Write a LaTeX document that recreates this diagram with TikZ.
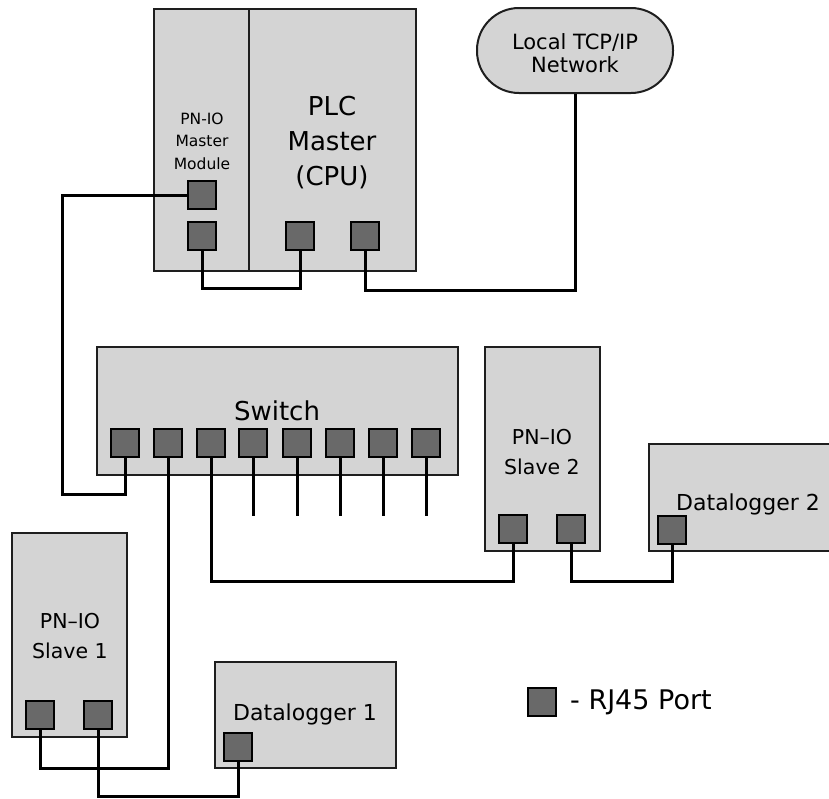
\documentclass[tikz,border=0pt]{standalone}
\usepackage{fontspec}
\setmainfont{DejaVu Sans}
\definecolor{boxgray}{RGB}{212,212,212}
\definecolor{portgray}{RGB}{105,105,105}
\definecolor{edgegray}{RGB}{30,30,30}
\begin{document}
\begin{tikzpicture}[x=1pt,y=-1pt,
  box/.style={draw=edgegray,fill=boxgray,line width=2pt,inner sep=0pt,rectangle},
  port/.style={draw=black,fill=portgray,line width=2pt,minimum size=28pt,inner sep=0pt,rectangle},
  wire/.style={draw=black,line width=3pt},
  lbl/.style={align=center,inner sep=0pt,text=black}]
\useasboundingbox (0,0) rectangle (829,798);
\clip (0,0) rectangle (829,798);
% boxes
\node[box,minimum width=95pt,minimum height=262pt] (module) at (201.5,140) {};
\node[box,minimum width=167pt,minimum height=262pt] (cpu) at (332.5,140) {};
\node[box,minimum width=196pt,minimum height=85pt,rounded corners=42pt] (net) at (575,50.5) {};
\node[box,minimum width=361pt,minimum height=128pt] (switch) at (277.5,411) {};
\node[box,minimum width=115pt,minimum height=204pt] (slave1) at (69.5,635) {};
\node[box,minimum width=181pt,minimum height=106pt] (dl1) at (305.5,715) {};
\node[box,minimum width=115pt,minimum height=204pt] (slave2) at (542.5,449) {};
\node[box,minimum width=200pt,minimum height=107pt] (dl2) at (749,497.5) {};
% labels
\node[lbl,font=\fontsize{15.5}{22.5}\selectfont] (tmod) at (202,141) {PN-IO\\Master\\Module};
\node[lbl,font=\fontsize{26}{35}\selectfont] (tcpu) at (332,143) {PLC\\Master\\(CPU)};
\node[lbl,font=\fontsize{21}{23}\selectfont] (tnet) at (575,53) {Local TCP/IP\\Network};
\node[lbl,font=\fontsize{26}{30}\selectfont] (tsw) at (277,411) {Switch};
\node[lbl,font=\fontsize{20.5}{30}\selectfont] (ts1) at (70,636) {PN–IO\\Slave 1};
\node[lbl,font=\fontsize{20.5}{30}\selectfont] (ts2) at (542,452) {PN–IO\\Slave 2};
\node[lbl,font=\fontsize{22}{26}\selectfont] (tdl1) at (305,714) {Datalogger 1};
\node[lbl,font=\fontsize{22}{26}\selectfont] (tdl2) at (748,504) {Datalogger 2};
% ports
\node[port] (mpu) at (202,195) {};
\node[port] (mlp) at (202,236) {};
\node[port] (cp1) at (300,236) {};
\node[port] (cp2) at (365,236) {};
\foreach \i/\x in {1/125,2/168,3/211,4/253,5/297,6/340,7/383,8/426}
  \node[port] (sp\i) at (\x,443) {};
\node[port] (s1p1) at (40,714.5) {};
\node[port] (s1p2) at (98,714.5) {};
\node[port] (d1p) at (238,746.5) {};
\node[port] (s2p1) at (513,528.5) {};
\node[port] (s2p2) at (571,528.5) {};
\node[port] (d2p) at (672,529.5) {};
\node[port] (legport) at (542,702) {};
\node[lbl,anchor=west,font=\fontsize{27}{30}\selectfont] (legtext) at (570,702) {- RJ45 Port};
% wires
\draw[wire] (mpu.west) -| ([xshift=-63pt,yshift=-36pt]sp1.south) -| (sp1.south);
\draw[wire] (mlp.south) -- ++(0,37) -| (cp1.south);
\draw[wire] (cp2.south) -- ++(0,39) -| (net.south);
\draw[wire] (sp2.south) -- ++(0,310) -| (s1p1.south);
\draw[wire] (sp3.south) -- ++(0,123) -| (s2p1.south);
\foreach \i in {4,...,8}
  \draw[wire] (sp\i.south) -- ++(0,58);
\draw[wire] (s1p2.south) -- ++(0,67) -| (d1p.south);
\draw[wire] (s2p2.south) -- ++(0,37.5) -| (d2p.south);
\end{tikzpicture}
\end{document}
